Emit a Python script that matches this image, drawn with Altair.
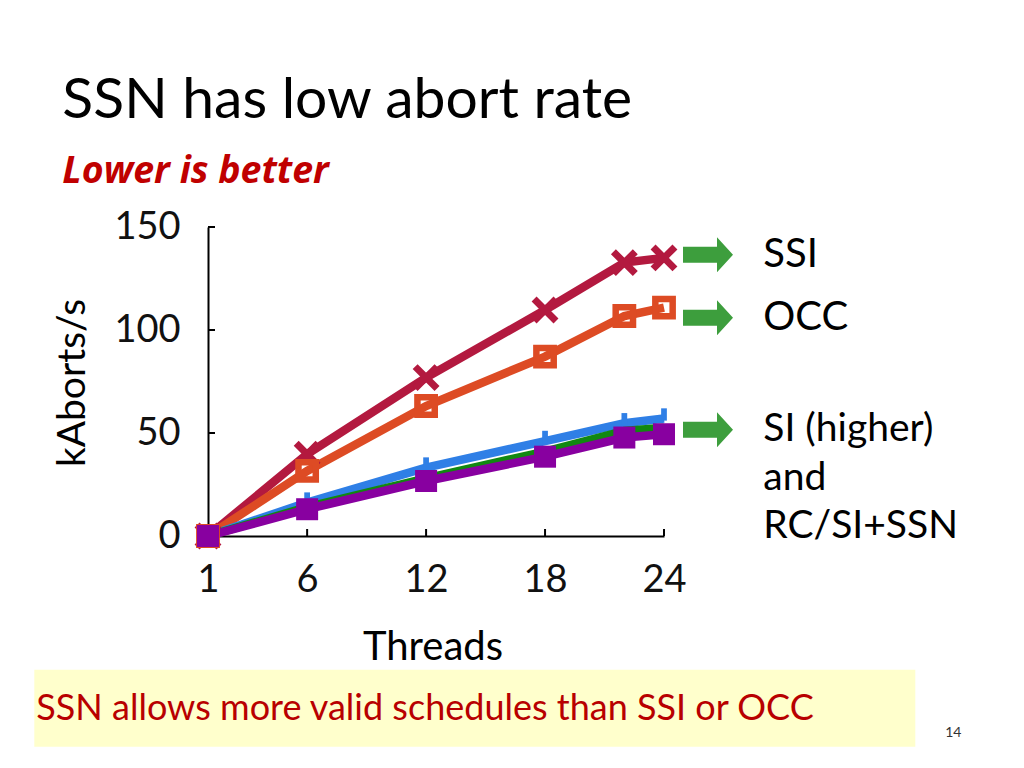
import altair as alt
import pandas as pd

threads = [1, 6, 12, 18, 22, 24]
ssi = [0, 39.7, 76.9, 109.7, 132.7, 135.0]
occ = [0, 31.6, 63.1, 87.1, 106.8, 110.9]
si = [0, 16.2, 33.2, 46.1, 54.7, 57.0]
rc_ssn = [0, 14.0, 28.0, 41.0, 51.0, 52.5]
si_ssn = [0, 13.0, 26.7, 38.5, 47.8, 49.4]

x_ticks = [1, 6, 12, 18, 24]
y_ticks = [0, 50, 100, 150]

FONT = "Lato"
W, H = 456, 309

def series(vals, name):
    return pd.DataFrame({"threads": threads, "kaborts": vals, "series": name})

xs = alt.X("threads:Q", scale=alt.Scale(domain=[1, 24], nice=False, zero=False),
           axis=alt.Axis(values=x_ticks, title=None, ticks=False, grid=False,
                         domainColor="black", domainWidth=2, labelFont=FONT,
                         labelFontSize=38, labelColor="#111", labelPadding=25,
                         labelFlush=False))
ys = alt.Y("kaborts:Q", scale=alt.Scale(domain=[0, 150], nice=False),
           axis=alt.Axis(values=y_ticks, title=None, ticks=False, grid=False,
                         domainColor="black", domainWidth=2, labelFont=FONT,
                         labelFontSize=38, labelColor="#111", labelPadding=28,
                         labelFlush=False))

def line_layer(vals, name, color):
    return alt.Chart(series(vals, name)).mark_line(color=color, strokeWidth=8.5).encode(x=xs, y=ys)

X_SHAPE = "M-1,-1L1,1M-1,1L1,-1"
BAR_SHAPE = "M-0.28,-1L0.28,-1L0.28,0.2L-0.28,0.2Z"

ssi_line = line_layer(ssi, "SSI", "#B3193F")
ssi_pts = alt.Chart(series(ssi, "SSI")).mark_point(
    shape=X_SHAPE, size=480, filled=False, color="#B3193F", strokeWidth=7, opacity=1
).encode(x=xs, y=ys)

occ_line = line_layer(occ, "OCC", "#DD4B24")
occ_pts = alt.Chart(series(occ, "OCC")).mark_point(
    shape="square", size=300, filled=False, color="#DD4B24", strokeWidth=6.5, opacity=1
).encode(x=xs, y=ys)

si_line = line_layer(si, "SI", "#2F7FE6")
si_pts = alt.Chart(series(si, "SI")).mark_point(
    shape=BAR_SHAPE, size=420, filled=True, color="#2F7FE6", opacity=1
).encode(x=xs, y=ys)

rc_line = line_layer(rc_ssn, "RC+SSN", "#118811")

ssn_line = line_layer(si_ssn, "SI+SSN", "#8800A0")
ssn_pts = alt.Chart(series(si_ssn, "SI+SSN")).mark_point(
    shape="square", size=484, filled=True, color="#8800A0", opacity=1
).encode(x=xs, y=ys)

# inward tick marks
ytick_df = pd.DataFrame({"kaborts": [50, 100, 150]})
ytick = alt.Chart(ytick_df).mark_rule(color="black", strokeWidth=2).encode(
    y=alt.Y("kaborts:Q", scale=alt.Scale(domain=[0, 150], nice=False)),
    x=alt.value(0), x2=alt.value(7))
xtick_df = pd.DataFrame({"threads": [6, 12, 18, 24]})
xtick = alt.Chart(xtick_df).mark_rule(color="black", strokeWidth=2).encode(
    x=alt.X("threads:Q", scale=alt.Scale(domain=[1, 24], nice=False, zero=False)),
    y=alt.value(H - 7), y2=alt.value(H))

one = pd.DataFrame({"d": [0]})

def text(t, x, y, size, color="black", align="left", baseline="alphabetic",
         weight="normal", style="normal", angle=0, font=FONT):
    return alt.Chart(one).mark_text(
        text=t, font=font, fontSize=size, color=color, align=align,
        baseline=baseline, fontWeight=weight, fontStyle=style, angle=angle
    ).encode(x=alt.value(x), y=alt.value(y))

ARROW = "M-1,-0.32L0.36,-0.32L0.36,-0.7L1,0L0.36,0.7L0.36,0.32L-1,0.32Z"
def arrow(y):
    return alt.Chart(one).mark_point(shape=ARROW, size=2500, filled=True,
                                     color="#3D9E3D", opacity=1).encode(
        x=alt.value(500), y=alt.value(y))

box = alt.Chart(one).mark_rect(color="#FFFFCC").encode(
    x=alt.value(-173.7), x2=alt.value(707.3), y=alt.value(442.7), y2=alt.value(519.7))

layers = [
    box,
    ssi_line, occ_line, si_line, rc_line, ssn_line,
    ssi_pts, occ_pts, si_pts, ssn_pts,
    ytick, xtick,
    text("SSN has low abort rate", -145.7, -109.3, 57),
    text("Lower is better", -145.7, -44.3, 37.5, color="#C00000", weight="bold",
         style="italic", font="Open Sans"),
    text("kAborts/s", -135, 156, 39, angle=270, align="center", baseline="middle"),
    text("Threads", 225, 421, 40, align="center", baseline="middle"),
    arrow(27.7), arrow(90.7), arrow(202.7),
    text("SSI", 555.3, 39.7, 40),
    text("OCC", 555.3, 102.7, 40),
    text("SI (higher)", 555.3, 214.4, 39),
    text("and", 555.3, 262.7, 39),
    text("RC/SI+SSN", 555.3, 311, 39),
    text("SSN allows more valid schedules than SSI or OCC", -171.7, 492.7, 36, color="#B80000"),
    text("14", 745.3, 505.7, 14, color="#333", align="center", baseline="middle"),
]

chart = alt.layer(*layers).properties(
    width=W, height=H,
    autosize=alt.AutoSizeParams(type="none"),
    padding={"left": 200, "top": 219, "right": 345, "bottom": 222},
).configure(background="white", view=alt.ViewConfig(stroke=None))

chart.save("out.html", embed_options={"renderer": "svg", "actions": False})
